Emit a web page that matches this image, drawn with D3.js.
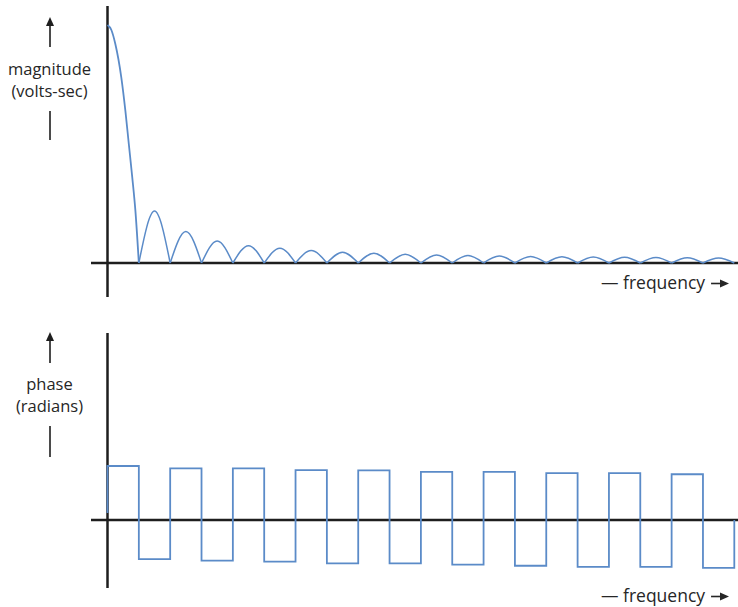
<!DOCTYPE html>
<html>
<head>
<meta charset="utf-8">
<script src="https://cdn.jsdelivr.net/npm/d3@7"></script>
<style>
  body { margin: 0; background: #fff; }
  text { font-family: "Open Sans", "Noto Sans", sans-serif; fill: #262626; }
</style>
</head>
<body>
<div id="chart"></div>
<script>
// frequency runs in units of 1/T, 0..20
var freqMax = 20;

// main lobe of the magnitude (f, relative magnitude)
var mainLobe = [[0, 1], [0.12, 0.98], [0.25, 0.92], [0.44, 0.78], [0.57, 0.64],
                [0.68, 0.5], [0.79, 0.36], [0.89, 0.22], [1, 0]];
// peak of each side lobe, lobe k sits between f = k and f = k+1
var sideLobePeaks = [0.218, 0.132, 0.092, 0.073, 0.062, 0.052, 0.045, 0.041, 0.037, 0.034,
                     0.031, 0.029, 0.027, 0.026, 0.025, 0.024, 0.023, 0.022, 0.021];

// phase levels (radians) on each unit interval
var phaseStart = 0.2;
var phaseTops = [1.57, 1.50, 1.50, 1.45, 1.44, 1.40, 1.40, 1.36, 1.36, 1.33];
var phaseBottoms = [-1.14, -1.18, -1.21, -1.26, -1.26, -1.30, -1.33, -1.36, -1.36, -1.39];
var phaseEnd = 0;

var width = 738, height = 607;
var axisColor = "#1e1e1e", lineColor = "#5b8bc8";

var svg = d3.select("#chart")
  .append("svg")
    .attr("width", width)
    .attr("height", height);

var x = d3.scaleLinear()
  .domain([0, freqMax])
  .range([107.5, 734.3]);

// top panel: magnitude
var yMag = d3.scaleLinear()
  .domain([0, 1])
  .range([263, 25]);

// bottom panel: phase
var yPh = d3.scaleLinear()
  .domain([-1, 1])
  .range([554.4, 485.6]);

function drawAxes(yScale, yTop, yBottom) {
  svg.append("line")
    .attr("x1", 91).attr("x2", width)
    .attr("y1", yScale(0)).attr("y2", yScale(0))
    .attr("stroke", axisColor).attr("stroke-width", 2.5);
  svg.append("line")
    .attr("x1", x(0)).attr("x2", x(0))
    .attr("y1", yTop).attr("y2", yBottom)
    .attr("stroke", axisColor).attr("stroke-width", 2.5);
}

function drawLabel(lines, arrowTop, arrowBottom, lineTop, lineBottom, baseline) {
  // up arrow
  svg.append("line")
    .attr("x1", 50).attr("x2", 50)
    .attr("y1", arrowBottom).attr("y2", arrowTop + 6)
    .attr("stroke", axisColor).attr("stroke-width", 1.6);
  svg.append("path")
    .attr("d", "M50," + arrowTop + " L54," + (arrowTop + 9) + " L46," + (arrowTop + 9) + " Z")
    .attr("fill", axisColor);
  svg.append("line")
    .attr("x1", 50).attr("x2", 50)
    .attr("y1", lineTop).attr("y2", lineBottom)
    .attr("stroke", axisColor).attr("stroke-width", 1.6);
  lines.forEach(function(t, i) {
    svg.append("text")
      .attr("x", 49.5).attr("y", baseline + i * 22.5)
      .attr("text-anchor", "middle")
      .attr("font-size", 16.5)
      .text(t);
  });
}

function drawFreq(y) {
  var t = svg.append("text")
    .attr("x", 601).attr("y", y)
    .attr("font-size", 17.5)
    .text("\u2014 frequency");
  var end = 601 + t.node().getComputedTextLength();
  var ay = y - 5.5;
  svg.append("line")
    .attr("x1", end + 6).attr("x2", 722)
    .attr("y1", ay).attr("y2", ay)
    .attr("stroke", "#262626").attr("stroke-width", 1.6);
  svg.append("path")
    .attr("d", "M729," + ay + " L720," + (ay - 4) + " L720," + (ay + 4) + " Z")
    .attr("fill", "#262626");
}

drawAxes(yMag, 6, 297);
drawAxes(yPh, 333, 588);

drawLabel(["magnitude", "(volts-sec)"], 17, 47, 111, 140, 74.5);
drawLabel(["phase", "(radians)"], 332, 363, 426, 457, 389.5);

drawFreq(289);
drawFreq(602);

// magnitude curve
var magLine = d3.line()
  .x(function(d) { return x(d[0]); })
  .y(function(d) { return yMag(d[1]); });

svg.append("path")
  .datum(mainLobe)
  .attr("fill", "none")
  .attr("stroke", lineColor)
  .attr("stroke-width", 1.8)
  .attr("d", magLine.curve(d3.curveMonotoneX));

svg.selectAll(".lobe")
  .data(sideLobePeaks)
  .enter().append("path")
    .attr("class", "lobe")
    .attr("fill", "none")
    .attr("stroke", lineColor)
    .attr("stroke-width", 1.5)
    .attr("d", function(p, i) {
      var k = i + 1;
      return d3.line()
        .x(function(d) { return x(d[0]); })
        .y(function(d) { return yMag(d[1]); })
        .curve(d3.curveNatural)([[k, 0], [k + 0.5, p], [k + 1, 0]]);
    });

// phase step curve
var levels = [];
phaseTops.forEach(function(t, i) { levels.push(t, phaseBottoms[i]); });

var phasePts = [[0, phaseStart]];
levels.forEach(function(v, i) { phasePts.push([i, v]); });
phasePts.push([levels.length, levels[levels.length - 1]]);
phasePts.push([levels.length, phaseEnd]);

svg.append("path")
  .datum(phasePts)
  .attr("fill", "none")
  .attr("stroke", lineColor)
  .attr("stroke-width", 1.8)
  .attr("d", d3.line()
    .x(function(d) { return x(d[0]); })
    .y(function(d) { return yPh(d[1]); })
    .curve(d3.curveStepAfter));
</script>
</body>
</html>
